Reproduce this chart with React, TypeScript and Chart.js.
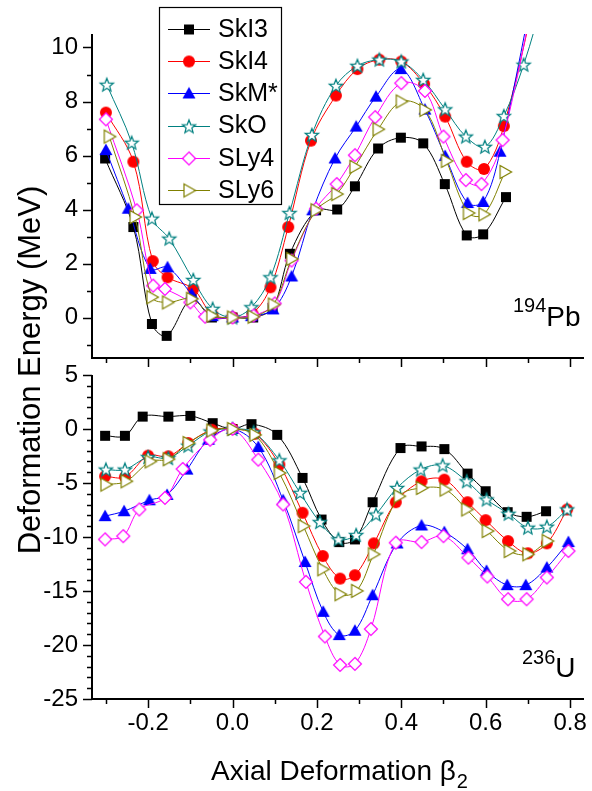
import React, { useEffect, useRef } from "react";
import { Chart, registerables } from "chart.js";
Chart.register(...registerables);

const FONT = '"Liberation Sans", Arial, Helvetica, sans-serif';

const seriesNames = ["SkI3", "SkI4", "SkM*", "SkO", "SLy4", "SLy6"];
const seriesColors = ["#000000", "#ff0000", "#0000ff", "#008080", "#ff00ff", "#808000"];
const markerKinds = ["square", "circle", "triangle", "star", "diamond", "rtriangle"];

// axis ticks
const xTicks = [-0.2, 0, 0.2, 0.4, 0.6, 0.8];
const xMinorStep = 0.1;
const pbYTicks = [0, 2, 4, 6, 8, 10];
const pbYMinorStep = 1;
const uYTicks = [5, 0, -5, -10, -15, -20, -25];
const uYMinorStep = 1;

// ---- 194Pb panel ----
const skI3PbX = [-0.302, -0.235, -0.191, -0.156, -0.097, -0.049, 0, 0.049, 0.095, 0.136, 0.198, 0.248, 0.29, 0.345, 0.399, 0.452, 0.503, 0.555, 0.594, 0.648];
const skI3PbY = [5.89, 3.35, -0.24, -0.68, 0.69, 0.0, 0, 0, 0.35, 2.36, 3.97, 4.0, 4.86, 6.26, 6.66, 6.45, 4.94, 3.04, 3.08, 4.46];
const skI4PbX = [-0.3, -0.235, -0.189, -0.154, -0.093, -0.048, 0, 0.047, 0.09, 0.132, 0.186, 0.245, 0.296, 0.348, 0.4, 0.454, 0.504, 0.555, 0.596, 0.643, 0.74];
const skI4PbY = [7.59, 5.77, 2.09, 1.49, 1.06, 0.12, 0, 0.15, 1.12, 3.35, 6.55, 8.22, 9.2, 9.55, 9.48, 8.65, 7.44, 5.77, 5.5, 7.09, 13.5];
const skMPbX = [-0.3, -0.247, -0.195, -0.154, -0.097, -0.048, 0, 0.045, 0.096, 0.14, 0.19, 0.243, 0.293, 0.34, 0.399, 0.456, 0.504, 0.557, 0.594, 0.634, 0.73];
const skMPbY = [6.2, 4.03, 1.8, 1.86, 0.87, 0.05, 0, 0.05, 0.3, 1.52, 3.97, 5.89, 7.07, 8.18, 9.2, 7.7, 5.98, 4.24, 4.28, 6.14, 13.5];
const skOPbX = [-0.298, -0.239, -0.191, -0.15, -0.093, -0.047, 0, 0.045, 0.09, 0.135, 0.188, 0.245, 0.296, 0.348, 0.4, 0.452, 0.504, 0.553, 0.598, 0.643, 0.69, 0.74];
const skOPbY = [8.62, 6.47, 3.66, 2.92, 1.39, 0.32, 0, 0.38, 1.49, 3.87, 6.76, 8.58, 9.32, 9.55, 9.48, 8.8, 7.71, 6.7, 6.32, 7.46, 9.36, 12.0];
const sLy4PbX = [-0.3, -0.227, -0.188, -0.16, -0.1, -0.065, 0, 0.05, 0.1, 0.14, 0.198, 0.247, 0.29, 0.338, 0.4, 0.456, 0.5, 0.553, 0.59, 0.64, 0.74];
const sLy4PbY = [7.34, 3.97, 1.18, 1.06, 0.56, 0.03, 0, 0.07, 0.52, 2.11, 4.03, 4.94, 6.01, 7.42, 8.68, 8.39, 6.7, 5.09, 4.94, 6.57, 14.0];
const sLy6PbX = [-0.292, -0.231, -0.191, -0.154, -0.097, -0.049, 0, 0.049, 0.097, 0.14, 0.198, 0.247, 0.29, 0.345, 0.4, 0.456, 0.507, 0.559, 0.596, 0.646];
const sLy6PbY = [6.7, 3.72, 0.75, 0.56, 0.69, 0.07, 0, 0.03, 0.48, 2.17, 3.97, 4.57, 5.58, 6.97, 8.0, 7.69, 5.8, 3.87, 3.82, 5.39];

// ---- 236U panel ----
const skI3UX = [-0.302, -0.255, -0.213, -0.152, -0.1, -0.047, 0, 0.045, 0.106, 0.166, 0.211, 0.253, 0.29, 0.332, 0.398, 0.448, 0.502, 0.557, 0.6, 0.652, 0.697, 0.743];
const skI3UY = [-0.63, -0.63, 1.15, 1.15, 1.22, 0.54, 0, 0.45, -0.54, -4.53, -8.38, -10.47, -10.22, -6.78, -1.76, -1.61, -1.86, -4.13, -5.76, -7.7, -8.13, -7.61];
const skI4UX = [-0.302, -0.255, -0.2, -0.152, -0.105, -0.049, 0, 0.053, 0.111, 0.166, 0.214, 0.255, 0.29, 0.335, 0.387, 0.448, 0.502, 0.557, 0.6, 0.653, 0.7, 0.745, 0.793];
const skI4UY = [-4.38, -4.44, -2.47, -2.53, -1.3, -0.07, 0, -0.44, -3.3, -7.76, -11.76, -13.85, -13.54, -10.59, -6.78, -4.84, -4.69, -6.78, -8.44, -10.38, -11.51, -10.59, -7.45];
const skMUX = [-0.302, -0.257, -0.197, -0.155, -0.108, -0.057, 0, 0.061, 0.12, 0.172, 0.215, 0.253, 0.29, 0.332, 0.39, 0.448, 0.502, 0.557, 0.602, 0.651, 0.695, 0.745, 0.796];
const skMUY = [-8.07, -7.61, -6.6, -6.1, -3.76, -1.0, 0, -1.67, -6.6, -12.32, -16.93, -19.08, -18.68, -15.39, -10.6, -8.93, -9.55, -11.14, -13.14, -14.46, -14.46, -12.83, -10.47];
const skOUX = [-0.3, -0.255, -0.2, -0.152, -0.105, -0.052, 0, 0.05, 0.111, 0.16, 0.207, 0.251, 0.293, 0.34, 0.39, 0.446, 0.498, 0.555, 0.602, 0.654, 0.7, 0.745, 0.793];
const skOUY = [-3.76, -3.76, -2.6, -2.7, -1.55, -0.23, 0, -0.3, -2.9, -5.91, -8.62, -10.22, -9.82, -7.92, -5.46, -3.76, -3.37, -4.84, -6.53, -7.85, -9.14, -9.05, -7.45];
const sLy4UX = [-0.302, -0.259, -0.221, -0.16, -0.118, -0.053, 0, 0.061, 0.12, 0.174, 0.219, 0.255, 0.29, 0.328, 0.387, 0.448, 0.5, 0.559, 0.604, 0.653, 0.697, 0.745, 0.796];
const sLy4UY = [-10.22, -9.92, -7.45, -6.38, -3.7, -1.0, 0, -2.84, -6.99, -14.16, -19.21, -21.85, -21.75, -18.52, -10.53, -10.47, -9.92, -11.91, -13.66, -15.76, -15.76, -13.75, -11.3];
const sLy6UX = [-0.3, -0.252, -0.195, -0.152, -0.105, -0.049, 0, 0.053, 0.111, 0.168, 0.214, 0.255, 0.294, 0.334, 0.395, 0.448, 0.504, 0.555, 0.604, 0.656, 0.7, 0.746];
const sLy6UY = [-5.15, -4.84, -3.0, -2.8, -1.3, -0.14, 0, -0.54, -4.07, -8.99, -12.99, -15.3, -14.99, -11.6, -6.23, -5.46, -5.61, -7.45, -9.45, -11.3, -11.6, -10.38];

const pbXs = [skI3PbX, skI4PbX, skMPbX, skOPbX, sLy4PbX, sLy6PbX];
const pbYs = [skI3PbY, skI4PbY, skMPbY, skOPbY, sLy4PbY, sLy6PbY];
const uXs = [skI3UX, skI4UX, skMUX, skOUX, sLy4UX, sLy6UX];
const uYs = [skI3UY, skI4UY, skMUY, skOUY, sLy4UY, sLy6UY];

function makeMarker(kind: string, color: string): HTMLCanvasElement {
  const S = 18;
  const c = document.createElement("canvas");
  c.width = S;
  c.height = S;
  const g = c.getContext("2d")!;
  const m = S / 2;
  g.lineWidth = 1.2;
  g.strokeStyle = color;
  g.fillStyle = color;
  g.beginPath();
  if (kind === "square") {
    g.fillRect(m - 5, m - 5, 10, 10);
    return c;
  }
  if (kind === "circle") {
    g.arc(m, m, 6, 0, Math.PI * 2);
    g.fill();
    return c;
  }
  if (kind === "triangle") {
    g.moveTo(m, m - 6.5);
    g.lineTo(m + 6.5, m + 5);
    g.lineTo(m - 6.5, m + 5);
    g.closePath();
    g.fill();
    return c;
  }
  if (kind === "star") {
    for (let i = 0; i < 10; i++) {
      const r = i % 2 === 0 ? 7 : 3;
      const a = -Math.PI / 2 + (i * Math.PI) / 5;
      const px = m + r * Math.cos(a);
      const py = m + 0.5 + r * Math.sin(a);
      if (i === 0) g.moveTo(px, py);
      else g.lineTo(px, py);
    }
  } else if (kind === "diamond") {
    g.moveTo(m, m - 6.5);
    g.lineTo(m + 6.5, m);
    g.lineTo(m, m + 6.5);
    g.lineTo(m - 6.5, m);
  } else if (kind === "rtriangle") {
    g.moveTo(m - 5, m - 6.5);
    g.lineTo(m + 6.5, m);
    g.lineTo(m - 5, m + 6.5);
  }
  g.closePath();
  g.fillStyle = "#ffffff";
  g.fill();
  g.stroke();
  return c;
}

function axesPlugin(yMajor: number[], yMinorStep: number) {
  return {
    id: "originAxes",
    afterDatasetsDraw(chart: any) {
      const { ctx, chartArea: a, scales } = chart;
      const xs = scales.x;
      const ys = scales.y;
      ctx.save();
      ctx.strokeStyle = "#000";
      ctx.lineWidth = 2;
      ctx.beginPath();
      ctx.moveTo(a.left, a.top);
      ctx.lineTo(a.left, a.bottom + 1);
      ctx.moveTo(a.left - 1, a.bottom);
      ctx.lineTo(a.right, a.bottom);
      ctx.stroke();
      ctx.lineWidth = 1.5;
      ctx.beginPath();
      // y ticks
      for (let v = Math.ceil(ys.min / yMinorStep) * yMinorStep; v <= ys.max + 1e-9; v += yMinorStep) {
        const isMajor = yMajor.some((t) => Math.abs(t - v) < 1e-6);
        const py = Math.round(ys.getPixelForValue(v)) + 0.5;
        ctx.moveTo(a.left, py);
        ctx.lineTo(a.left - (isMajor ? 9 : 5), py);
      }
      // x ticks
      for (let v = Math.ceil(xs.min / xMinorStep) * xMinorStep; v <= xs.max + 1e-9; v += xMinorStep) {
        const isMajor = xTicks.some((t) => Math.abs(t - v) < 1e-6);
        const px = Math.round(xs.getPixelForValue(v)) + 0.5;
        ctx.moveTo(px, a.bottom);
        ctx.lineTo(px, a.bottom + (isMajor ? 9 : 5));
      }
      ctx.stroke();
      ctx.restore();
    },
  };
}

function buildDatasets(xsList: number[][], ysList: number[][], markers: HTMLCanvasElement[]) {
  return seriesNames.map((name, i) => ({
    label: name,
    data: xsList[i].map((x, j) => ({ x, y: ysList[i][j] })),
    borderColor: seriesColors[i],
    backgroundColor: seriesColors[i],
    borderWidth: 1,
    pointStyle: markers[i],
    pointRadius: 5,
    pointHoverRadius: 5,
    tension: 0.35,
    order: seriesNames.length - i,
  }));
}

function buildConfig(opts: {
  xsList: number[][];
  ysList: number[][];
  markers: HTMLCanvasElement[];
  yMin: number;
  yMax: number;
  yTicks: number[];
  yMinorStep: number;
  padTop: number;
  padBottom: number;
  xHeight: number;
  showXLabels: boolean;
  extra: any;
}): any {
  return {
    type: "line",
    data: { datasets: buildDatasets(opts.xsList, opts.ysList, opts.markers) },
    options: {
      animation: false,
      responsive: false,
      events: [],
      layout: { padding: { top: opts.padTop, bottom: opts.padBottom, left: 0, right: 8 } },
      plugins: { legend: { display: false }, tooltip: { enabled: false } },
      scales: {
        x: {
          type: "linear",
          min: -0.333,
          max: 0.833,
          grid: { display: false, drawTicks: false },
          border: { display: false },
          afterBuildTicks: (s: any) => {
            s.ticks = xTicks.map((v) => ({ value: v }));
          },
          ticks: {
            display: opts.showXLabels,
            padding: 10,
            color: "#000",
            font: { family: FONT, size: 24 },
            maxRotation: 0,
            callback: (v: any) => Number(v).toFixed(1),
          },
          afterFit: (s: any) => {
            s.height = opts.xHeight;
            s.paddingLeft = 0;
            s.paddingRight = 0;
          },
        },
        y: {
          type: "linear",
          min: opts.yMin,
          max: opts.yMax,
          grid: { display: false, drawTicks: false },
          border: { display: false },
          afterBuildTicks: (s: any) => {
            s.ticks = opts.yTicks.map((v) => ({ value: v }));
          },
          ticks: {
            padding: 14,
            color: "#000",
            font: { family: FONT, size: 24 },
            callback: (v: any) => String(v),
          },
          afterFit: (s: any) => {
            s.width = 92;
            s.paddingTop = 0;
            s.paddingBottom = 0;
          },
        },
      },
    },
    plugins: [axesPlugin(opts.yTicks, opts.yMinorStep), opts.extra],
  };
}

function drawIsotope(ctx: CanvasRenderingContext2D, mass: string, sym: string, x: number, supBase: number, base: number) {
  ctx.save();
  ctx.fillStyle = "#000";
  ctx.textAlign = "left";
  ctx.textBaseline = "alphabetic";
  ctx.font = `20px ${FONT}`;
  ctx.fillText(mass, x, supBase);
  const w = ctx.measureText(mass).width;
  ctx.font = `28px ${FONT}`;
  ctx.fillText(sym, x + w, base);
  ctx.restore();
}

export default function App() {
  const topRef = useRef<HTMLCanvasElement>(null);
  const botRef = useRef<HTMLCanvasElement>(null);

  useEffect(() => {
    document.body.style.margin = "0";
    const markers = markerKinds.map((k, i) => makeMarker(k, seriesColors[i]));

    const topExtra = {
      id: "topExtra",
      afterDraw(chart: any) {
        const ctx: CanvasRenderingContext2D = chart.ctx;
        // legend
        ctx.save();
        ctx.fillStyle = "#fff";
        ctx.fillRect(159.5, 7.5, 122, 197);
        ctx.strokeStyle = "#000";
        ctx.lineWidth = 1.2;
        ctx.strokeRect(159.5, 7.5, 122, 197);
        ctx.font = `25px ${FONT}`;
        ctx.textBaseline = "middle";
        ctx.textAlign = "left";
        seriesNames.forEach((name, i) => {
          const y = 29 + i * 32.2;
          ctx.strokeStyle = seriesColors[i];
          ctx.lineWidth = 1;
          ctx.beginPath();
          ctx.moveTo(168, Math.round(y) + 0.5);
          ctx.lineTo(210, Math.round(y) + 0.5);
          ctx.stroke();
          const mk = markers[i];
          ctx.drawImage(mk, 189 - mk.width / 2, Math.round(y) - mk.height / 2 + 0.5);
          ctx.fillStyle = "#000";
          ctx.fillText(name, 218, y + 1);
        });
        ctx.restore();
        drawIsotope(ctx, "194", "Pb", 513, 312, 326);
      },
    };

    const botExtra = {
      id: "botExtra",
      afterDraw(chart: any) {
        const ctx: CanvasRenderingContext2D = chart.ctx;
        drawIsotope(ctx, "236", "U", 522, 664, 677);
        ctx.save();
        ctx.fillStyle = "#000";
        // y title
        ctx.font = `31px ${FONT}`;
        ctx.translate(31, 370);
        ctx.rotate(-Math.PI / 2);
        ctx.textAlign = "center";
        ctx.textBaseline = "middle";
        ctx.fillText("Deformation Energy (MeV)", 0, 0);
        ctx.restore();
        // x title with subscript
        ctx.save();
        ctx.fillStyle = "#000";
        ctx.textBaseline = "alphabetic";
        ctx.textAlign = "left";
        const main = "Axial Deformation \u03b2";
        ctx.font = `28px ${FONT}`;
        const wm = ctx.measureText(main).width;
        ctx.font = `20px ${FONT}`;
        const ws = ctx.measureText("2").width;
        const x0 = 339 - (wm + ws) / 2;
        ctx.font = `28px ${FONT}`;
        ctx.fillText(main, x0, 780);
        ctx.font = `20px ${FONT}`;
        ctx.fillText("2", x0 + wm + 1, 788);
        ctx.restore();
      },
    };

    const top = new Chart(
      topRef.current!,
      buildConfig({
        xsList: pbXs,
        ysList: pbYs,
        markers,
        yMin: -1.5,
        yMax: 10.5,
        yTicks: pbYTicks,
        yMinorStep: pbYMinorStep,
        padTop: 34,
        padBottom: 403,
        xHeight: 30,
        showXLabels: false,
        extra: topExtra,
      })
    );
    const bot = new Chart(
      botRef.current!,
      buildConfig({
        xsList: uXs,
        ysList: uYs,
        markers,
        yMin: -25,
        yMax: 5,
        yTicks: uYTicks,
        yMinorStep: uYMinorStep,
        padTop: 375,
        padBottom: 0,
        xHeight: 92,
        showXLabels: true,
        extra: botExtra,
      })
    );
    return () => {
      top.destroy();
      bot.destroy();
    };
  }, []);

  return (
    <div style={{ position: "fixed", left: 0, top: 0, width: 592, height: 791, background: "#fff", overflow: "hidden" }}>
      <canvas ref={botRef} width={592} height={791} style={{ position: "absolute", left: 0, top: 0, width: 592, height: 791 }} />
      <canvas ref={topRef} width={592} height={791} style={{ position: "absolute", left: 0, top: 0, width: 592, height: 791 }} />
    </div>
  );
}
